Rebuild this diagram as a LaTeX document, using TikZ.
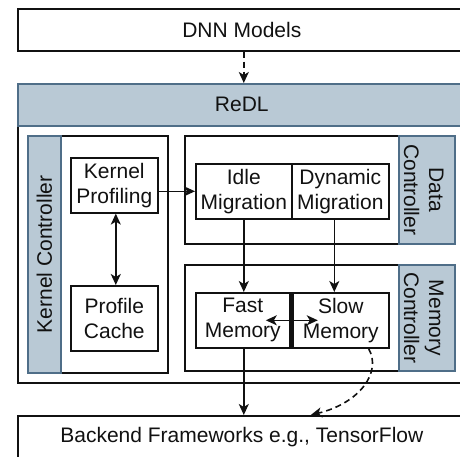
\documentclass[tikz,border=0pt]{standalone}
\usepackage{fontspec}
\setmainfont{Liberation Sans}
\usetikzlibrary{arrows.meta}
\definecolor{bluefill}{HTML}{B9C9D5}
\definecolor{blueline}{HTML}{4F6E88}
\definecolor{ink}{HTML}{111111}
\tikzset{
  txt/.style={inner sep=0pt, align=center, font=\fontsize{21}{25}\selectfont, text=ink},
  box/.style={txt, draw=ink, line width=1.6pt, fill=white, anchor=north west},
  strip/.style={draw=blueline, fill=bluefill, line width=1.6pt, anchor=north west, inner sep=0pt, align=center, font=\fontsize{21}{25}\selectfont, text=ink},
  tip/.tip={Stealth[length=11pt,width=10pt,inset=3pt]},
  arr/.style={-tip, line width=1.6pt, draw=ink},
  dblarr/.style={tip-tip, line width=1.6pt, draw=ink},
  dsh/.style={dash pattern=on 6pt off 4pt},
}
\begin{document}
\begin{tikzpicture}[x=1pt,y=-1pt]
\useasboundingbox (0,0) rectangle (460,457);
% top and bottom
\node[box, minimum width=448pt, minimum height=42pt] (dnn) at (17,8) {DNN Models};
\node[box, minimum width=448pt, minimum height=299pt] (redlbox) at (17,83) {};
\node[strip, minimum width=448pt, minimum height=42pt] (redl) at (17,83) {ReDL};
\node[box, minimum width=448pt, minimum height=43pt] (backend) at (17,415) {Backend Frameworks e.g., TensorFlow};
% kernel controller
\node[box, minimum width=140pt, minimum height=237pt] (kcbox) at (27,135) {};
\node[strip, minimum width=33pt, minimum height=237pt] (kcs) at (27,135) {};
\node[txt, rotate=90] (kc) at (kcs.center) {Kernel Controller};
\node[box, minimum width=87pt, minimum height=55pt] (kp) at (70,157) {Kernel\\Profiling};
\node[box, minimum width=87pt, minimum height=65pt] (pc) at (70,285) {Profile\\Cache};
% data controller
\node[box, minimum width=270pt, minimum height=108pt] (dcbox) at (184,135) {};
\node[strip, minimum width=56pt, minimum height=108pt] (dcs) at (398,135) {};
\node[txt, rotate=-90] (dc) at ([xshift=-3pt]dcs.center) {Data\\Controller};
\node[box, minimum width=96pt, minimum height=55pt] (idle) at (195,163) {Idle\\Migration};
\node[box, minimum width=97pt, minimum height=55pt] (dyn) at (291,163) {Dynamic\\Migration};
% memory controller
\node[box, minimum width=270pt, minimum height=106pt] (mcbox) at (184,264) {};
\node[strip, minimum width=56pt, minimum height=106pt] (mcs) at (398,264) {};
\node[txt, rotate=-90] (mc) at ([xshift=-3pt]mcs.center) {Memory\\Controller};
\node[box, minimum width=94pt, minimum height=55pt] (fast) at (195,292) {Fast\\Memory};
\node[box, minimum width=96pt, minimum height=55pt] (slow) at (292,292) {Slow\\Memory};
\draw[ink, line width=3.8pt] (fast.north east) -- (fast.south east);
% connectors
\draw[arr, dsh] ([xshift=2pt]dnn.south) -- ([xshift=2pt]redl.north);
\draw[arr] (kp.east |- idle.west) -- (idle.west);
\draw[dblarr] ([xshift=1.5pt]kp.south) -- ([xshift=1.5pt]pc.north);
\draw[arr] (idle.south) -- (idle.south |- fast.north);
\draw[arr] ([xshift=-6pt]dyn.south) -- ([xshift=-6pt]dyn.south |- slow.north);
\draw[dblarr] ([xshift=23pt]fast.center) -- ([xshift=-23pt]slow.center);
\draw[arr] ([xshift=1pt]fast.south) -- ([xshift=1pt]fast.south |- backend.north);
\draw[arr, dsh] ([xshift=-21pt]slow.south east) .. controls (382,372) and (360,403) .. ([xshift=69pt]backend.north);
\end{tikzpicture}
\end{document}
